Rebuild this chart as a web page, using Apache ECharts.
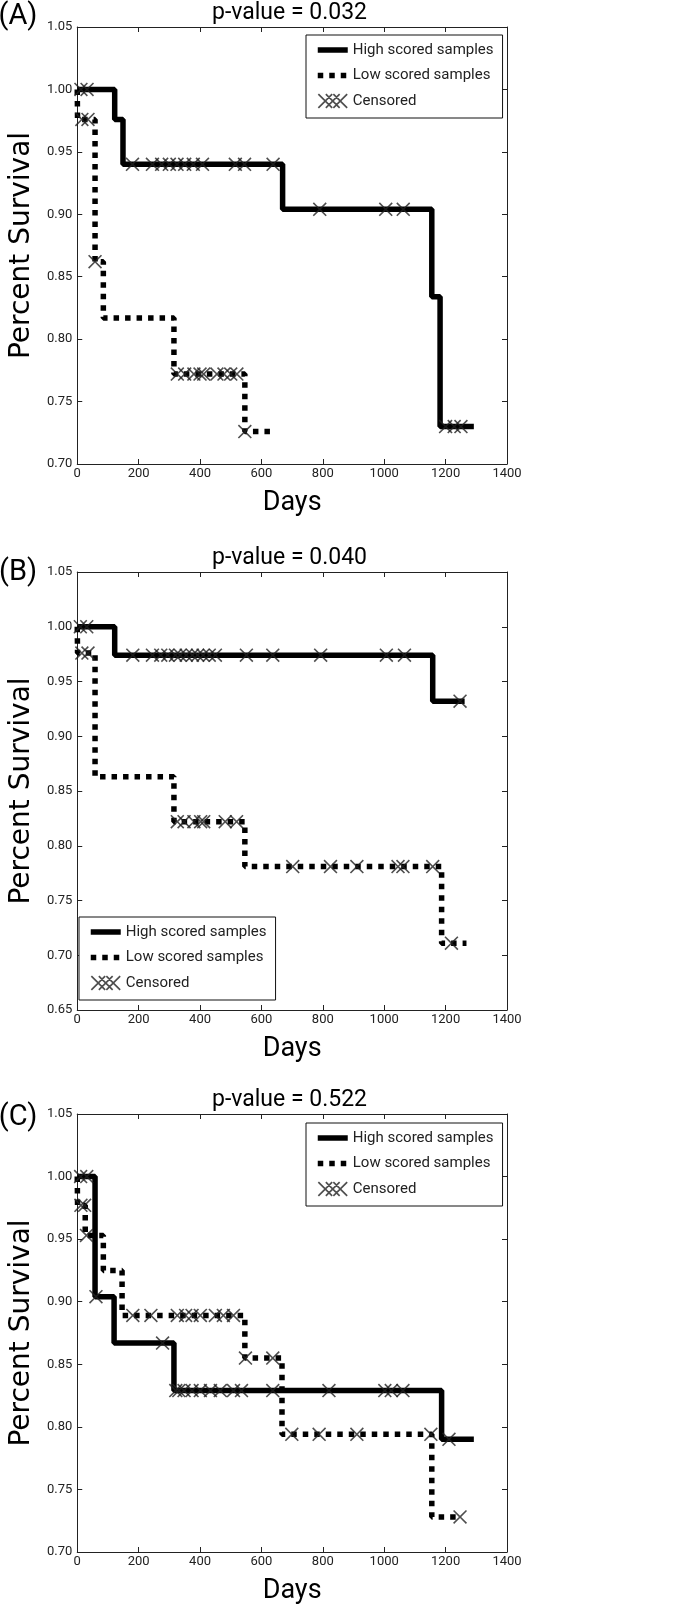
<!DOCTYPE html>
<html><head><meta charset="utf-8">
<script src="https://cdn.jsdelivr.net/npm/echarts@6/dist/echarts.min.js"></script>
<style>html,body{margin:0;padding:0;background:#fff}#c{width:675px;height:1606px}</style>
</head><body><div id="c"></div>
<script>
// ---------- data ----------
const xTicks = [0, 200, 400, 600, 800, 1000, 1200, 1400];
const panelLabels = ['(A)', '(B)', '(C)'];
const pValues = ['p-value = 0.032', 'p-value = 0.040', 'p-value = 0.522'];
const seriesNames = ['High scored samples', 'Low scored samples', 'Censored'];
const yMins = [0.70, 0.65, 0.70];

// Panel A  [day, survival]
const highA = [[0,1.0],[122,0.976],[149,0.940],[669,0.904],[1155,0.834],[1182,0.730],[1292,0.730]];
const lowA  = [[0,1.0],[1,0.976],[58,0.862],[85,0.817],[315,0.772],[546,0.726],[643,0.726]];
const censHighA = [[12,1.0],[32,1.0],[180,0.94],[245,0.94],[275,0.94],[300,0.94],[325,0.94],[350,0.94],[378,0.94],[408,0.94],[515,0.94],[545,0.94],[638,0.94],[790,0.904],[1005,0.904],[1062,0.904],[1200,0.73],[1228,0.73],[1250,0.73]];
const censLowA  = [[15,0.976],[35,0.976],[58,0.862],[326,0.772],[350,0.772],[380,0.772],[400,0.772],[412,0.772],[455,0.772],[478,0.772],[500,0.772],[520,0.772],[546,0.726]];

// Panel B
const highB = [[0,1.0],[122,0.974],[1158,0.932],[1262,0.932]];
const lowB  = [[0,1.0],[1,0.976],[58,0.863],[315,0.822],[546,0.781],[1187,0.711],[1268,0.711]];
const censHighB = [[10,1.0],[31,1.0],[181,0.974],[245,0.974],[272,0.974],[295,0.974],[320,0.974],[335,0.974],[355,0.974],[375,0.974],[392,0.974],[410,0.974],[430,0.974],[450,0.974],[551,0.974],[637,0.974],[793,0.974],[1007,0.974],[1066,0.974],[1247,0.932]];
const censLowB  = [[15,0.976],[35,0.976],[326,0.822],[348,0.822],[380,0.822],[402,0.822],[412,0.822],[482,0.822],[519,0.822],[702,0.781],[825,0.781],[911,0.781],[1045,0.781],[1061,0.781],[1158,0.781],[1219,0.711]];

// Panel C
const highC = [[0,1.0],[58,0.904],[120,0.867],[315,0.829],[1187,0.790],[1292,0.790]];
const lowC  = [[0,1.0],[1,0.977],[26,0.953],[85,0.925],[146,0.889],[546,0.855],[667,0.794],[1155,0.728],[1247,0.728]];
const censHighC = [[11,1.0],[31,1.0],[61,0.904],[278,0.867],[321,0.829],[331,0.829],[348,0.829],[374,0.829],[401,0.829],[434,0.829],[466,0.829],[509,0.829],[535,0.829],[637,0.829],[820,0.829],[1002,0.829],[1023,0.829],[1061,0.829],[1211,0.790]];
const censLowC  = [[12,0.977],[24,0.977],[30,0.953],[181,0.889],[240,0.889],[326,0.889],[353,0.889],[374,0.889],[401,0.889],[450,0.889],[476,0.889],[509,0.889],[548,0.855],[637,0.855],[699,0.794],[788,0.794],[911,0.794],[1152,0.794],[1247,0.728]];

// ---------- layout / style ----------
const FONT = 'Roboto';
function xPoly(ox) {
  const t = 8;
  const p = (x, y) => (ox + x) + ',' + y;
  return 'M' + p(0,t) + 'L' + p(t,0) + 'L' + p(50,50-t) + 'L' + p(100-t,0) + 'L' + p(100,t) + 'L' + p(50+t,50) +
         'L' + p(100,100-t) + 'L' + p(100-t,100) + 'L' + p(50,50+t) + 'L' + p(t,100) + 'L' + p(0,100-t) + 'L' + p(50-t,50) + 'Z';
}
const X_PATH = 'path://' + xPoly(0);
const X3_PATH = 'path://' + xPoly(0) + xPoly(50) + xPoly(100);

const layout = [
  {top: 27,   height: 437, titleY: 13.5,  labelY: 16.5,   legLeft: 306, legTop: 35},
  {top: 572,  height: 438, titleY: 558,   labelY: 573,    legLeft: 79,  legTop: 917},
  {top: 1114, height: 438, titleY: 1100,  labelY: 1117.5, legLeft: 306, legTop: 1123}
];
const panelData = [
  {high: highA, low: lowA, cens: censHighA.concat(censLowA)},
  {high: highB, low: lowB, cens: censHighB.concat(censLowB)},
  {high: highC, low: lowC, cens: censHighC.concat(censLowC)}
];

const grids = [], xAxes = [], yAxes = [], series = [], legends = [], graphics = [];
const axisLineStyle = {color: '#222', width: 1};
const NONE = 'rgba(0,0,0,0)';
layout.forEach((L, i) => {
  grids.push({left: 72, top: L.top, width: 435, height: L.height, containLabel: false});
  const xBase = {type: 'value', gridIndex: i, min: xTicks[0], max: xTicks[xTicks.length - 1],
    interval: xTicks[1] - xTicks[0], splitLine: {show: false},
    axisLine: {show: true, onZero: false, lineStyle: axisLineStyle},
    axisTick: {show: true, inside: true, length: 5, lineStyle: axisLineStyle}};
  xAxes.push(Object.assign({}, xBase, {position: 'bottom',
    axisLabel: {show: true, margin: 3, fontFamily: FONT, fontSize: 13, color: '#222',
      formatter: v => String(Math.round(v))},
    name: 'Days', nameLocation: 'middle', nameGap: 26,
    nameTextStyle: {fontFamily: FONT, fontSize: 27, color: '#000'}}));
  xAxes.push(Object.assign({}, xBase, {position: 'top', axisLabel: {show: false}}));
  const yBase = {type: 'value', gridIndex: i, min: yMins[i], max: 1.05, interval: 0.05,
    splitLine: {show: false},
    axisLine: {show: true, onZero: false, lineStyle: axisLineStyle},
    axisTick: {show: true, inside: true, length: 5, lineStyle: axisLineStyle}};
  yAxes.push(Object.assign({}, yBase, {position: 'left',
    axisLabel: {show: true, margin: 5, fontFamily: FONT, fontSize: 13, color: '#222',
      formatter: v => Number(v).toFixed(2)},
    name: 'Percent Survival', nameLocation: 'middle', nameGap: 26,
    nameTextStyle: {fontFamily: 'DejaVu Sans', fontSize: 28, color: '#000'}}));
  yAxes.push(Object.assign({}, yBase, {position: 'right', axisLabel: {show: false}}));

  const d = panelData[i];
  series.push({type: 'line', name: seriesNames[0], xAxisIndex: 2 * i, yAxisIndex: 2 * i,
    data: d.high, step: 'end', symbol: 'none', silent: true, z: 2,
    lineStyle: {color: '#000', width: 5.5, cap: 'butt'}, itemStyle: {color: NONE}});
  series.push({type: 'line', name: seriesNames[1], xAxisIndex: 2 * i, yAxisIndex: 2 * i,
    data: d.low, step: 'end', symbol: 'none', silent: true, z: 2,
    lineStyle: {color: '#000', width: 5.5, type: [5.5, 6], cap: 'butt'}, itemStyle: {color: NONE}});
  series.push({type: 'scatter', name: seriesNames[2], xAxisIndex: 2 * i, yAxisIndex: 2 * i,
    data: d.cens, symbol: X_PATH, symbolSize: 14, silent: true, z: 3,
    itemStyle: {color: '#222'}});

  legends.push({orient: 'vertical', left: L.legLeft, top: L.legTop,
    padding: [7, 9, 9, 9], itemGap: 9.5, itemWidth: 30, itemHeight: 15,
    borderColor: '#111', borderWidth: 1, backgroundColor: '#fff', borderRadius: 0,
    selectedMode: false,
    textStyle: {fontFamily: FONT, fontSize: 15, color: '#222', lineHeight: 16},
    lineStyle: {width: 5.5},
    data: [{name: seriesNames[0]}, {name: seriesNames[1]}, {name: seriesNames[2], icon: X3_PATH}]});

  graphics.push({type: 'text', x: 289.5, y: L.titleY, silent: true,
    style: {text: pValues[i], fontFamily: FONT, fontSize: 23, fill: '#000', align: 'center', verticalAlign: 'middle'}});
  graphics.push({type: 'text', x: 18, y: L.labelY, silent: true,
    style: {text: panelLabels[i], fontFamily: FONT, fontSize: 29, fill: '#000', align: 'center', verticalAlign: 'middle'}});
});

const chart = echarts.init(document.getElementById('c'), null, {renderer: 'canvas'});
chart.setOption({
  animation: false,
  backgroundColor: '#fff',
  grid: grids, xAxis: xAxes, yAxis: yAxes, series: series, legend: legends, graphic: graphics
});
</script></body></html>
